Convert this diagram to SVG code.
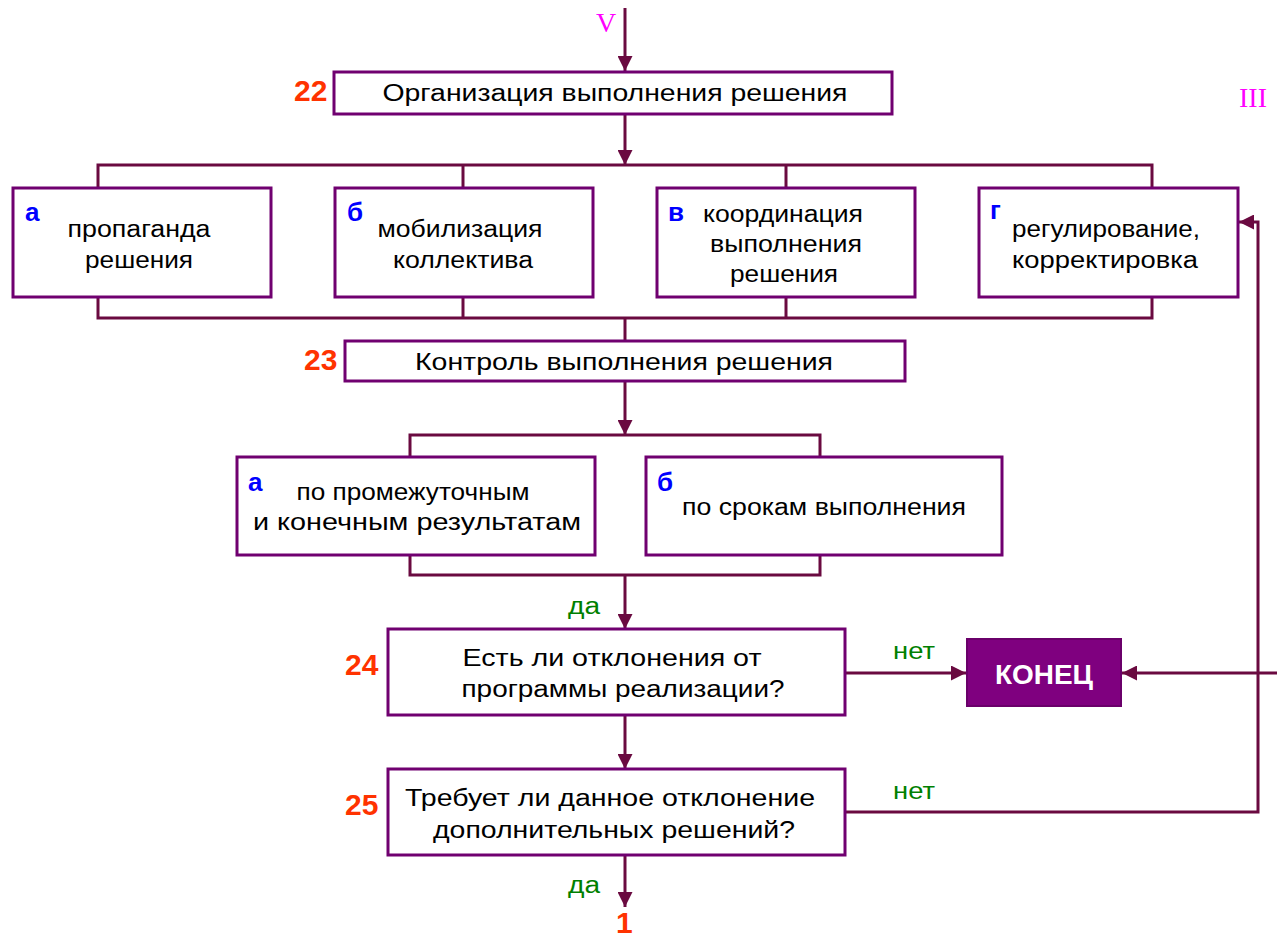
<svg xmlns="http://www.w3.org/2000/svg" width="1277" height="939" viewBox="0 0 1277 939">
<style>
.box{fill:#fff;stroke:#700070;stroke-width:3}
.end{fill:#7f007f;stroke:#6a006a;stroke-width:2}
.t{font-family:"Liberation Sans",Arial,sans-serif;font-size:23px;fill:#000;text-anchor:middle}
.w{font-family:"Liberation Sans",Arial,sans-serif;font-size:27px;font-weight:bold;fill:#fff;text-anchor:middle}
.num{font-family:"Liberation Sans",Arial,sans-serif;font-size:30px;font-weight:bold;fill:#ff3300}
.lt{font-family:"Liberation Sans",Arial,sans-serif;font-size:26px;font-weight:bold;fill:#0000ff}
.g{font-family:"Liberation Sans",Arial,sans-serif;font-size:23px;fill:#008000}
.m{font-family:"Liberation Serif","Times New Roman",serif;font-size:28px;fill:#ff00ff}
.c{fill:none;stroke:#6a0a40;stroke-width:3}
</style>
<defs>
<marker id="ar" viewBox="0 0 10 10" refX="10" refY="5" markerWidth="5" markerHeight="5" orient="auto" markerUnits="strokeWidth">
<path d="M0,0 L10,5 L0,10 z" fill="#6a0a40"/>
</marker>
</defs>
<g id="connectors">
<line class="c" x1="625" y1="8" x2="625" y2="71" marker-end="url(#ar)"/>
<line class="c" x1="625" y1="114" x2="625" y2="165" marker-end="url(#ar)"/>
<polyline class="c" points="98,188 98,165 1152,165 1152,188"/>
<line class="c" x1="463" y1="165" x2="463" y2="188"/>
<line class="c" x1="786" y1="165" x2="786" y2="188"/>
<polyline class="c" points="98,297 98,318 1152,318 1152,297"/>
<line class="c" x1="463" y1="297" x2="463" y2="318"/>
<line class="c" x1="786" y1="297" x2="786" y2="318"/>
<line class="c" x1="625" y1="318" x2="625" y2="341"/>
<line class="c" x1="625" y1="381" x2="625" y2="435" marker-end="url(#ar)"/>
<polyline class="c" points="410,457 410,435 820,435 820,457"/>
<polyline class="c" points="410,555 410,575 820,575 820,555"/>
<line class="c" x1="625" y1="575" x2="625" y2="629" marker-end="url(#ar)"/>
<line class="c" x1="845" y1="673" x2="966" y2="673" marker-end="url(#ar)"/>
<line class="c" x1="1277" y1="673" x2="1122" y2="673" marker-end="url(#ar)"/>
<line class="c" x1="625" y1="715" x2="625" y2="769" marker-end="url(#ar)"/>
<polyline class="c" points="845,812 1258,812 1258,222 1239,222" marker-end="url(#ar)"/>
<line class="c" x1="625" y1="855" x2="625" y2="907" marker-end="url(#ar)"/>
</g>
<text class="m" x="596" y="32">V</text>
<text class="m" x="1239" y="107">III</text>
<g id="n22">
<rect class="box" x="334" y="72" width="558" height="42"/>
<text class="num" x="294" y="101">22</text>
<text class="t" x="615" y="101" textLength="465" lengthAdjust="spacingAndGlyphs">Организация выполнения решения</text>
</g>
<g id="n22a">
<rect class="box" x="13" y="188" width="258" height="109"/>
<text class="lt" x="25" y="221">а</text>
<text class="t" x="139" y="237" textLength="143" lengthAdjust="spacingAndGlyphs">пропаганда</text>
<text class="t" x="139" y="268" textLength="108" lengthAdjust="spacingAndGlyphs">решения</text>
</g>
<g id="n22b">
<rect class="box" x="335" y="188" width="258" height="109"/>
<text class="lt" x="347" y="221">б</text>
<text class="t" x="460" y="237" textLength="165" lengthAdjust="spacingAndGlyphs">мобилизация</text>
<text class="t" x="463" y="268" textLength="140" lengthAdjust="spacingAndGlyphs">коллектива</text>
</g>
<g id="n22c">
<rect class="box" x="657" y="188" width="258" height="109"/>
<text class="lt" x="668" y="221">в</text>
<text class="t" x="783" y="222" textLength="160" lengthAdjust="spacingAndGlyphs">координация</text>
<text class="t" x="786" y="252" textLength="152" lengthAdjust="spacingAndGlyphs">выполнения</text>
<text class="t" x="784" y="282" textLength="108" lengthAdjust="spacingAndGlyphs">решения</text>
</g>
<g id="n22d">
<rect class="box" x="979" y="188" width="259" height="109"/>
<text class="lt" x="990" y="219">г</text>
<text class="t" x="1106" y="237" textLength="188" lengthAdjust="spacingAndGlyphs">регулирование,</text>
<text class="t" x="1105" y="268" textLength="186" lengthAdjust="spacingAndGlyphs">корректировка</text>
</g>
<g id="n23">
<rect class="box" x="345" y="341" width="560" height="40"/>
<text class="num" x="304" y="370">23</text>
<text class="t" x="624" y="370" textLength="418" lengthAdjust="spacingAndGlyphs">Контроль выполнения решения</text>
</g>
<g id="n23a">
<rect class="box" x="237" y="457" width="358" height="98"/>
<text class="lt" x="248" y="491">а</text>
<text class="t" x="413" y="500" textLength="233" lengthAdjust="spacingAndGlyphs">по промежуточным</text>
<text class="t" x="417" y="530" textLength="328" lengthAdjust="spacingAndGlyphs">и конечным результатам</text>
</g>
<g id="n23b">
<rect class="box" x="646" y="457" width="356" height="98"/>
<text class="lt" x="657" y="491">б</text>
<text class="t" x="824" y="515" textLength="284" lengthAdjust="spacingAndGlyphs">по срокам выполнения</text>
</g>
<text class="g" x="568" y="614" textLength="32" lengthAdjust="spacingAndGlyphs">да</text>
<g id="n24">
<rect class="box" x="388" y="629" width="457" height="86"/>
<text class="num" x="345" y="675">24</text>
<text class="t" x="612" y="666" textLength="299" lengthAdjust="spacingAndGlyphs">Есть ли отклонения от</text>
<text class="t" x="623" y="697" textLength="323" lengthAdjust="spacingAndGlyphs">программы реализации?</text>
</g>
<text class="g" x="893" y="659" textLength="42" lengthAdjust="spacingAndGlyphs">нет</text>
<g id="end">
<rect class="end" x="967" y="639" width="154" height="67"/>
<text class="w" x="1044" y="684" textLength="98" lengthAdjust="spacingAndGlyphs">КОНЕЦ</text>
</g>
<g id="n25">
<rect class="box" x="388" y="769" width="457" height="86"/>
<text class="num" x="345" y="815">25</text>
<text class="t" x="610" y="806" textLength="410" lengthAdjust="spacingAndGlyphs">Требует ли данное отклонение</text>
<text class="t" x="614" y="838" textLength="362" lengthAdjust="spacingAndGlyphs">дополнительных решений?</text>
</g>
<text class="g" x="893" y="799" textLength="42" lengthAdjust="spacingAndGlyphs">нет</text>
<text class="g" x="568" y="893" textLength="32" lengthAdjust="spacingAndGlyphs">да</text>
<text class="num" x="616" y="933">1</text>
</svg>
